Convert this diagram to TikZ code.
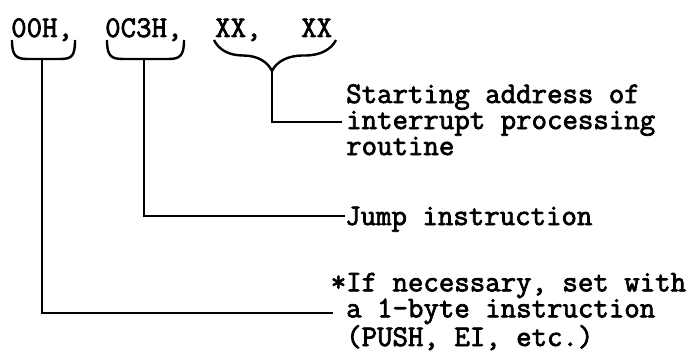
\documentclass[tikz,border=0pt]{standalone}
\usepackage{fontspec}
\setmonofont[FakeBold=2.4]{Latin Modern Mono}
\usetikzlibrary{decorations.pathreplacing,calc}
\begin{document}
\begin{tikzpicture}[x=1pt,y=1pt,
  txt/.style={anchor=base west,inner sep=0pt,font=\fontsize{30}{26}\ttfamily},
  note/.style={txt,align=left},
  ln/.style={line width=2.4pt,line join=miter},
  brc/.style={line width=2.4pt}]
\useasboundingbox (0,0) rectangle (698,362);
% top row
\node[txt] (h00) at (11,325) {00H,};
\node[txt] (hc3) at (105,325) {0C3H,};
\node[txt] (xx1) at (215,325) {XX,};
\node[txt] (xx2) at (301,325) {XX};
% notes
\node[note] (addr) at (346,207) {Starting address of\\interrupt processing\\routine};
\node[txt] (jmp) at (345,137) {Jump instruction};
\node[note] (push) at (346,16) {\llap{*}If necessary, set with\\a 1-byte instruction\\(PUSH, EI, etc.)};
% brace junctions and line ends
\coordinate (j1) at (42,303);
\coordinate (j2) at (144,303);
\coordinate (e1) at (333,49);
\coordinate (e2) at (345,146);
\coordinate (e3) at (342,240);
% braces 1 and 2 (U shapes)
\draw[brc] (12,322) .. controls (12,306) and (16,303) .. (28,303) -- (60,303) .. controls (72,303) and (75,306) .. (75,322);
\draw[brc] (107,322) .. controls (107,306) and (111,303) .. (123,303) -- (168,303) .. controls (180,303) and (184,306) .. (184,322);
% brace 3
\draw[brc,decorate,decoration={brace,amplitude=31pt,aspect=0.525}] (336,322) -- (214,322);
\coordinate (tip3) at (272,291);
% connectors
\draw[ln] (j1) |- (e1);
\draw[ln] (j2) |- (e2);
\draw[ln] (tip3) |- (e3);
\end{tikzpicture}
\end{document}
